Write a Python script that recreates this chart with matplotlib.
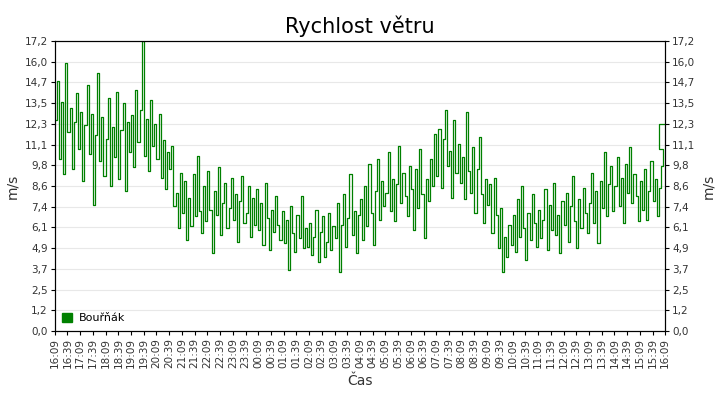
import matplotlib
matplotlib.use("Agg")
import matplotlib.pyplot as plt
from matplotlib.patches import Patch
import numpy as np

# wind speed, one reading per 5 minutes starting 16:09
h16 = [12.5, 14.8, 10.2, 13.6, 9.3, 15.9, 11.8, 13.2, 9.6, 12.4, 14.1, 10.8]
h17 = [13.0, 8.9, 12.2, 14.6, 10.5, 12.9, 7.5, 11.6, 15.3, 10.1, 12.7, 9.2]
h18 = [11.4, 13.8, 8.6, 12.1, 10.3, 14.2, 9.0, 11.9, 13.5, 8.3, 12.4, 10.6]
h19 = [12.8, 9.7, 14.3, 11.2, 13.1, 17.2, 10.4, 12.6, 9.5, 13.7, 11.0, 12.3]
h20 = [10.2, 12.9, 9.1, 11.3, 8.4, 10.6, 9.6, 11.0, 7.4, 8.2, 6.1, 9.4]
h21 = [7.0, 8.9, 5.4, 7.9, 6.2, 9.3, 6.8, 10.4, 7.1, 5.8, 8.6, 6.5]
h22 = [9.5, 7.2, 4.6, 8.3, 6.9, 9.7, 5.7, 7.6, 8.8, 6.1, 7.3, 9.1]
h23 = [6.6, 8.1, 5.3, 7.7, 9.2, 6.4, 7.0, 8.6, 5.6, 7.9, 6.3, 8.4]
h00 = [6.0, 7.6, 5.1, 8.8, 6.7, 4.8, 7.2, 5.9, 8.0, 6.3, 5.4, 7.1]
h01 = [5.2, 6.6, 3.6, 7.4, 5.8, 4.7, 6.9, 5.5, 8.0, 4.9, 6.1, 5.0]
h02 = [6.4, 4.5, 5.6, 7.2, 4.1, 5.9, 6.8, 4.4, 5.3, 7.0, 4.8, 6.2]
h03 = [5.5, 7.6, 3.5, 6.3, 8.1, 5.0, 6.7, 9.3, 5.7, 7.1, 4.6, 6.9]
h04 = [7.8, 5.4, 8.6, 6.2, 9.9, 7.0, 5.1, 8.3, 10.2, 6.6, 8.9, 7.4]
h05 = [8.2, 10.6, 7.1, 9.0, 6.5, 8.7, 11.0, 7.6, 9.4, 8.0, 6.8, 9.8]
h06 = [8.4, 6.0, 9.6, 7.3, 10.8, 8.1, 5.5, 9.0, 7.7, 10.2, 8.6, 11.7]
h07 = [9.2, 12.0, 8.5, 11.4, 13.1, 9.8, 10.7, 7.9, 12.5, 9.4, 11.1, 8.8]
h08 = [10.3, 7.8, 13.0, 9.5, 8.2, 10.9, 7.0, 9.6, 11.5, 8.1, 6.4, 9.0]
h09 = [7.5, 8.7, 5.8, 9.1, 6.9, 4.9, 7.3, 3.5, 5.6, 4.4, 6.3, 5.1]
h10 = [6.9, 4.7, 7.8, 5.6, 8.6, 6.1, 4.2, 7.0, 5.4, 8.1, 6.4, 5.0]
h11 = [7.2, 5.5, 6.6, 8.4, 4.8, 7.5, 6.0, 8.8, 5.7, 6.9, 4.6, 7.7]
h12 = [6.3, 8.2, 5.3, 7.4, 9.2, 6.5, 4.9, 7.8, 6.1, 8.5, 7.0, 5.8]
h13 = [7.6, 9.4, 6.4, 8.3, 5.2, 8.9, 7.3, 10.6, 6.8, 8.7, 9.8, 7.1]
h14 = [8.6, 10.3, 7.4, 9.1, 6.4, 9.9, 8.2, 10.9, 7.6, 9.3, 8.0, 6.5]
h15 = [8.9, 7.2, 9.6, 6.6, 8.3, 10.1, 7.7, 9.0, 6.8, 8.5, 9.8, 10.8]
last_value = 12.3

speed = h16 + h17 + h18 + h19 + h20 + h21 + h22 + h23 + h00 + h01 + h02 + h03 + \
        h04 + h05 + h06 + h07 + h08 + h09 + h10 + h11 + h12 + h13 + h14 + h15

tick_labels = []
for i in range(49):
    m = (16 * 60 + 9 + 30 * i) % (24 * 60)
    tick_labels.append(f"{m // 60:02d}:{m % 60:02d}")

ymax = 17.2
yticks = [ymax * i / 14 for i in range(15)]
ylabels = [f"{v:.1f}".replace(".", ",") for v in yticks]

green = "#008000"
fig = plt.figure(figsize=(7.2, 4.0), dpi=100)
ax = fig.add_axes([0.076, 0.1725, 0.848, 0.725])

x = np.arange(len(speed)) * 5.0
xs = list(x) + [1425.0, 1440.0]
ys = speed + [last_value, last_value]
ax.step(xs, ys, where="post", color=green, lw=0.9)

ax.set_xlim(0, 1440)
ax.set_ylim(0, ymax)
ax.set_xticks([30 * i for i in range(49)])
ax.set_xticklabels(tick_labels, rotation=90, fontsize=7.5, color="#333333")
ax.set_yticks(yticks)
ax.set_yticklabels(ylabels, fontsize=7.5, color="#333333")
ax.grid(axis="y", color="#e8e8e8", lw=0.8)
ax.set_axisbelow(True)
ax.tick_params(length=3, pad=2)
ax.set_ylabel("m/s", fontsize=10, color="#333333")
ax.set_xlabel("Čas", fontsize=10, color="#333333", labelpad=4)
ax.set_title("Rychlost větru", fontsize=15, pad=6)

ax2 = ax.twinx()
ax2.set_ylim(0, ymax)
ax2.set_yticks(yticks)
ax2.set_yticklabels(ylabels, fontsize=7.5, color="#333333")
ax2.tick_params(length=3, pad=2)
ax2.set_ylabel("m/s", fontsize=10, color="#333333")

ax.legend(handles=[Patch(color=green, label="Bouřňák")], loc="lower left", frameon=False,
          fontsize=8, handlelength=0.9, handleheight=0.9, borderaxespad=0.3, handletextpad=0.6)

fig.savefig("out.png", dpi=100)
